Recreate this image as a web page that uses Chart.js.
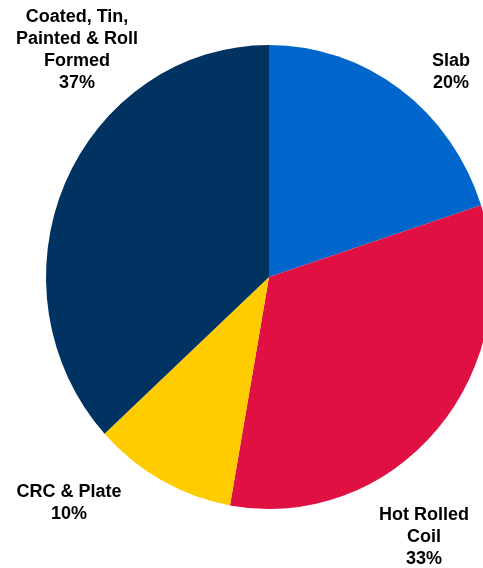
<!DOCTYPE html>
<html>
<head>
<meta charset="utf-8">
<script src="https://cdn.jsdelivr.net/npm/chart.js@4/dist/chart.umd.min.js"></script>
<style>
  html, body { margin: 0; padding: 0; background: #ffffff; overflow: hidden; }
  #wrap { width: 483px; height: 568px; overflow: hidden; position: relative; }
  canvas { display: block; }
</style>
</head>
<body>
<div id="wrap"><canvas id="c" width="540" height="568"></canvas></div>
<script>
// ---- data ----
const categories = ["Slab", "Hot Rolled Coil", "CRC & Plate", "Coated, Tin, Painted & Roll Formed"];
const values = [20.0, 32.8, 10.4, 36.8];
const colors = ["#0066CC", "#E01142", "#FFCC00", "#003262"];
// label text broken into lines
const labelLines = [["Slab"], ["Hot Rolled", "Coil"], ["CRC & Plate"], ["Coated, Tin,", "Painted & Roll", "Formed"]];
// label placement (center x, first baseline y) - style only
const labelPos = [{x: 451, y: 66}, {x: 424, y: 520}, {x: 69, y: 497}, {x: 77, y: 21.5}];
const lineHeight = 22;
const xSquash = 223 / 232;

const total = values.reduce((a, b) => a + b, 0);

const ellipsePlugin = {
  id: 'ellipse',
  beforeDatasetsDraw(chart) {
    const arc = chart.getDatasetMeta(0).data[0];
    const ctx = chart.ctx;
    ctx.save();
    ctx.translate(arc.x, 0);
    ctx.scale(xSquash, 1);
    ctx.translate(-arc.x, 0);
  },
  afterDatasetsDraw(chart) {
    chart.ctx.restore();
  }
};

const labelPlugin = {
  id: 'outLabels',
  afterDraw(chart) {
    const ctx = chart.ctx;
    ctx.save();
    ctx.font = 'bold 18px "Liberation Sans", Arial, sans-serif';
    ctx.fillStyle = '#000000';
    ctx.textAlign = 'center';
    ctx.textBaseline = 'alphabetic';
    values.forEach((v, i) => {
      const lines = labelLines[i].concat([Math.round(v / total * 100) + '%']);
      const p = labelPos[i];
      lines.forEach((t, j) => ctx.fillText(t, p.x, p.y + j * lineHeight));
    });
    ctx.restore();
  }
};

new Chart(document.getElementById('c'), {
  type: 'pie',
  data: {
    labels: categories,
    datasets: [{
      data: values,
      backgroundColor: colors,
      borderWidth: 0
    }]
  },
  options: {
    responsive: false,
    animation: false,
    layout: { padding: { top: 45, bottom: 59, left: 37, right: 39 } },
    plugins: { legend: { display: false }, tooltip: { enabled: false } }
  },
  plugins: [ellipsePlugin, labelPlugin]
});
</script>
</body>
</html>
